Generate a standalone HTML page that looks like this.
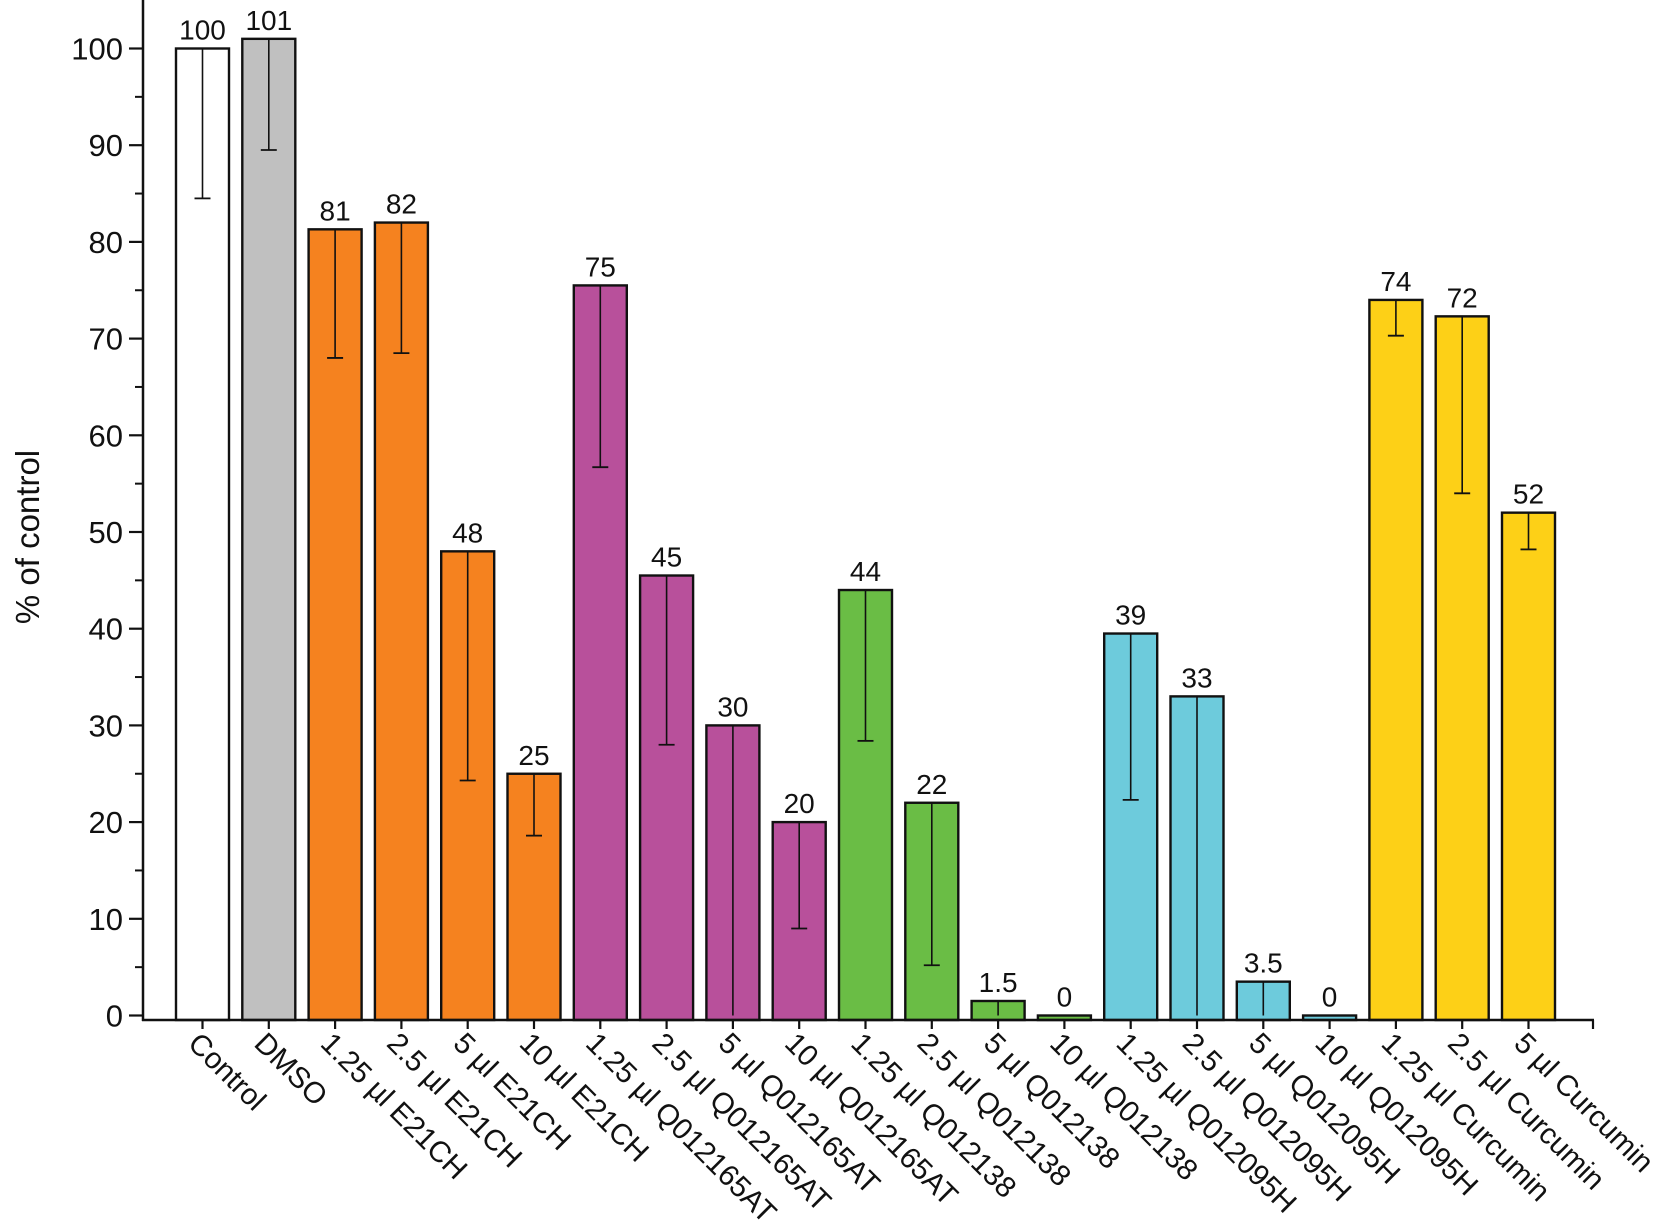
<!DOCTYPE html>
<html><head><meta charset="utf-8"><style>
html,body{margin:0;padding:0;background:#fff;}
svg{display:block;font-family:"Liberation Sans",Arial,sans-serif;}
</style></head><body>
<svg id="chart" width="1677" height="1230" viewBox="0 0 1677 1230" xmlns="http://www.w3.org/2000/svg">
<g id="plot"></g>
<text transform="translate(39,537) rotate(-90)" text-anchor="middle" font-size="33" fill="#111">% of control</text>
</svg>
<script>
const categories = ["Control","DMSO","1.25 µl E21CH","2.5 µl E21CH","5 µl E21CH","10 µl E21CH","1.25 µl Q012165AT","2.5 µl Q012165AT","5 µl Q012165AT","10 µl Q012165AT","1.25 µl Q012138","2.5 µl Q012138","5 µl Q012138","10 µl Q012138","1.25 µl Q012095H","2.5 µl Q012095H","5 µl Q012095H","10 µl Q012095H","1.25 µl Curcumin","2.5 µl Curcumin","5 µl Curcumin"];
const values = [100,101,81.3,82,48,25,75.5,45.5,30,20,44,22,1.5,0,39.5,33,3.5,0,74,72.3,52];
const errLow = [84.5,89.5,68,68.5,24.3,18.6,56.7,28,0,9,28.4,5.2,0,0,22.3,0,0,0,70.3,54,48.2];
const valueLabels = ["100","101","81","82","48","25","75","45","30","20","44","22","1.5","0","39","33","3.5","0","74","72","52"];
const groups = ["white","gray","orange","orange","orange","orange","purple","purple","purple","purple","green","green","green","green","cyan","cyan","cyan","cyan","yellow","yellow","yellow"];
const yTicks = [0,10,20,30,40,50,60,70,80,90,100];

const colors = {white:"#ffffff",gray:"#c0c0c0",orange:"#f5821f",purple:"#b8509b",green:"#6abd45",cyan:"#6dcbdc",yellow:"#fdd017"};
const NS = "http://www.w3.org/2000/svg";
const plot = document.getElementById('plot');
const y0 = 1015.5, pxPerUnit = 9.67;
const yS = v => y0 - v * pxPerUnit;
const x0 = 202.5, step = 66.3;
const xS = i => x0 + i * step;
const barW = 53;
const axisX = 143, axisY = 1020;
function mk(tag, attrs){const e=document.createElementNS(NS,tag);for(const k in attrs)e.setAttribute(k,attrs[k]);plot.appendChild(e);return e;}

categories.forEach((c,i)=>{
  const cx = xS(i), top = Math.min(yS(values[i]), axisY-4);
  const r = mk('rect',{x:cx-barW/2,y:top,width:barW,height:Math.max(axisY-top,0),fill:colors[groups[i]],stroke:"#111","stroke-width":2.4});
  
  
  if (values[i] - errLow[i] > 0.3) {
    const l = mk('line',{x1:cx,x2:cx,y1:top,y2:Math.min(yS(errLow[i]),axisY),stroke:"#111","stroke-width":1.6});
    
    
    if (errLow[i] > 0.5) {
      const cap = mk('line',{x1:cx-8,x2:cx+8,y1:yS(errLow[i]),y2:yS(errLow[i]),stroke:"#111","stroke-width":1.8});
      
      
    }
  }
  const t = mk('text',{x:cx,y:top-9,"text-anchor":"middle","font-size":28,fill:"#111"});
  t.textContent = valueLabels[i];
  
  
  const tk = mk('line',{x1:cx,x2:cx,y1:axisY,y2:axisY+9,stroke:"#111","stroke-width":2.2});
  
  
  const lb = mk('text',{transform:`translate(${cx-16},${axisY+25}) rotate(45)`,"font-size":29.5,fill:"#111"});
  lb.textContent = c;
  
  
});
const ya = mk('line',{x1:axisX,x2:axisX,y1:0,y2:axisY+1,stroke:"#111","stroke-width":2.5});


const xa = mk('line',{x1:axisX-1,x2:1594,y1:axisY,y2:axisY,stroke:"#111","stroke-width":2.5});


const xe = mk('line',{x1:1593,x2:1593,y1:axisY,y2:axisY+9,stroke:"#111","stroke-width":2.2});


yTicks.forEach(v=>{
  const y=yS(v);
  const t = mk('line',{x1:axisX-14,x2:axisX,y1:y,y2:y,stroke:"#111","stroke-width":2.2});
  
  
  const lb = mk('text',{x:axisX-20,y:y+11,"text-anchor":"end","font-size":31,fill:"#111"});
  lb.textContent = String(v);
  
  
  if (v < 100) {
    const m = mk('line',{x1:axisX-8,x2:axisX,y1:yS(v+5),y2:yS(v+5),stroke:"#111","stroke-width":2});
    
    
  }
});
</script>
</body></html>
